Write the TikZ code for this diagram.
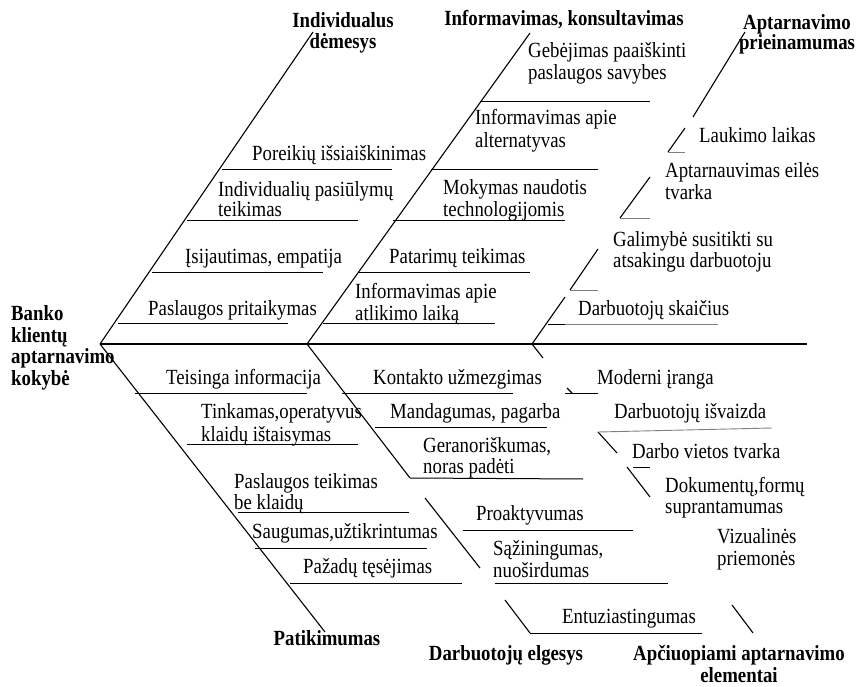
\documentclass[tikz,border=0pt]{standalone}
\usepackage{fontspec}
\setmainfont{Liberation Serif}
\begin{document}
\begin{tikzpicture}[x=1pt,y=-1pt,
  every node/.style={inner sep=0pt, yscale=1.15, font=\fontsize{18.8}{22}\selectfont},
  lbl/.style={anchor=base west},
  head/.style={anchor=base, font=\fontsize{18.8}{22}\selectfont\bfseries},
  headl/.style={anchor=base west, font=\fontsize{18.8}{22}\selectfont\bfseries},
  bone/.style={line width=1.1pt},
  rib/.style={line width=1pt},
  faint/.style={line width=0.9pt, black!50}]
\useasboundingbox (0,0) rectangle (857,687);

% spine and junctions
\coordinate (J1) at (100,344);
\coordinate (J2) at (307,344);
\coordinate (J3) at (532,344);
\coordinate (head) at (807,344);
\draw[bone] (J1) -- (head);

% upper bones
\coordinate (B1) at (313,32);
\coordinate (B2) at (530,33);
\draw[bone] (J1) -- (B1);
\draw[bone] (J2) -- (B2);

% broken upper bone: Aptarnavimo prieinamumas
\coordinate (c1a) at (565,297); \coordinate (c1b) at (570,290);
\coordinate (c2a) at (598,249); \coordinate (c2b) at (620,218);
\coordinate (c3a) at (650,177); \coordinate (c3b) at (668,152);
\coordinate (c4a) at (685,128); \coordinate (c4b) at (693,117);
\coordinate (B3) at (745,32);
\draw[bone] (J3) -- (c1a);
\draw[bone] (c1b) -- (c2a);
\draw[bone] (c2b) -- (c3a);
\draw[bone] (c3b) -- (c4a);
\draw[bone] (c4b) -- (B3);

% lower bones
\coordinate (B4) at (325,632);
\draw[bone] (J1) -- (B4);

\coordinate (d1) at (410,478);
\coordinate (d2a) at (425,498); \coordinate (d2b) at (480,568);
\coordinate (d3a) at (505,600); \coordinate (d3b) at (530,633);
\draw[bone] (J2) -- (d1);
\draw[bone] (d2a) -- (d2b);
\draw[bone] (d3a) -- (d3b);

\coordinate (e1) at (543,358);
\coordinate (e2a) at (567,388); \coordinate (e2b) at (572,393);
\coordinate (e3a) at (598,432); \coordinate (e3b) at (617,453);
\coordinate (e4a) at (627,467); \coordinate (e4b) at (650,497);
\coordinate (e5a) at (732,605); \coordinate (e5b) at (753,633);
\draw[bone] (J3) -- (e1);
\draw[bone] (e2a) -- (e2b);
\draw[bone] (e3a) -- (e3b);
\draw[bone] (e4a) -- (e4b);
\draw[bone] (e5a) -- (e5b);

% ribs: Individualus demesys
\draw[rib] (222,170) -- (392,170);
\draw[rib] (187,221) -- (358,221);
\draw[rib] (152,273) -- (323,273);
\draw[rib] (118,323) -- (288,323);

% ribs: Informavimas, konsultavimas
\draw[rib] (480,102) -- (650,102);
\draw[rib] (431,170) -- (598,170);
\draw[rib] (393,221) -- (565,221);
\draw[rib] (358,273) -- (530,273);
\draw[rib] (323,323) -- (495,323);

% ribs: Aptarnavimo prieinamumas
\draw[faint] (c3b) -- (685,152);
\draw[faint] (c2b) -- (650,218);
\draw[faint] (c1b) -- (598,290);
\draw[rib] (548,324) -- (565,324);
\draw[faint] (565,324) -- (718,324);

% ribs: Patikimumas
\draw[rib] (135,393) -- (307,393);
\draw[rib] (187,444) -- (358,444);
\draw[rib] (238,512) -- (409,512);
\draw[rib] (255,548) -- (427,548);
\draw[rib] (290,583) -- (462,583);

% ribs: Darbuotoju elgesys
\draw[rib] (342,393) -- (513,393);
\draw[rib] (375,427) -- (547,427);
\draw[rib] (d1) -- (583,479);
\draw[rib] (463,530) -- (633,530);
\draw[rib] (495,583) -- (668,583);
\draw[rib] (d3b) -- (702,633);

% ribs: Apciuopiami aptarnavimo elementai
\draw[rib] (565,393) -- (598,393);
\draw[faint] (e3a) -- (772,428);
\draw[rib] (633,467) -- (650,467);

% effect
\node[headl] (q1) at (11,320) {Banko};
\node[headl] (q2) at (11,342) {klientų};
\node[headl] (q3) at (11,363) {aptarnavimo};
\node[headl] (q4) at (11,385) {kokybė};

% category titles
\node[head] (h1a) at (343,28) {Individualus};
\node[head] (h1b) at (343,49) {dėmesys};
\node[head] (h2) at (564,26) {Informavimas, konsultavimas};
\node[head] (h3a) at (797,30) {Aptarnavimo};
\node[head] (h3b) at (797,50) {prieinamumas};
\node[head] (h4) at (327,645) {Patikimumas};
\node[head] (h5) at (506,660) {Darbuotojų elgesys};
\node[head] (h6a) at (739,660) {Apčiuopiami aptarnavimo};
\node[head] (h6b) at (739,682) {elementai};

% Individualus demesys
\node[lbl] (a1) at (252,161) {Poreikių išsiaiškinimas};
\node[lbl] (a2a) at (218,197) {Individualių pasiūlymų};
\node[lbl] (a2b) at (218,217) {teikimas};
\node[lbl] (a3) at (185,263) {Įsijautimas, empatija};
\node[lbl] (a4) at (148,315) {Paslaugos pritaikymas};

% Informavimas, konsultavimas
\node[lbl] (b1a) at (528,58) {Gebėjimas paaiškinti};
\node[lbl] (b1b) at (528,80) {paslaugos savybes};
\node[lbl] (b2a) at (475,125) {Informavimas apie};
\node[lbl] (b2b) at (475,148) {alternatyvas};
\node[lbl] (b3a) at (443,195) {Mokymas naudotis};
\node[lbl] (b3b) at (443,217) {technologijomis};
\node[lbl] (b4) at (389,263) {Patarimų teikimas};
\node[lbl] (b5a) at (355,298) {Informavimas apie};
\node[lbl] (b5b) at (355,320) {atlikimo laiką};

% Aptarnavimo prieinamumas
\node[lbl] (c1) at (699,143) {Laukimo laikas};
\node[lbl] (c2a) at (665,178) {Aptarnauvimas eilės};
\node[lbl] (c2b) at (665,200) {tvarka};
\node[lbl] (c3a) at (613,247) {Galimybė susitikti su};
\node[lbl] (c3b) at (613,268) {atsakingu darbuotoju};
\node[lbl] (c4) at (578,315) {Darbuotojų skaičius};

% Patikimumas
\node[lbl] (p1) at (166,384) {Teisinga informacija};
\node[lbl] (p2a) at (201,418) {Tinkamas,operatyvus};
\node[lbl] (p2b) at (201,441) {klaidų ištaisymas};
\node[lbl] (p3a) at (234,488) {Paslaugos teikimas};
\node[lbl] (p3b) at (234,509) {be klaidų};
\node[lbl] (p4) at (252,538) {Saugumas,užtikrintumas};
\node[lbl] (p5) at (303,573) {Pažadų tęsėjimas};

% Darbuotoju elgesys
\node[lbl] (g1) at (373,384) {Kontakto užmezgimas};
\node[lbl] (g2) at (390,418) {Mandagumas, pagarba};
\node[lbl] (g3a) at (423,452) {Geranoriškumas,};
\node[lbl] (g3b) at (423,473) {noras padėti};
\node[lbl] (g4) at (476,520) {Proaktyvumas};
\node[lbl] (g5a) at (493,555) {Sąžiningumas,};
\node[lbl] (g5b) at (493,577) {nuoširdumas};
\node[lbl] (g6) at (562,623) {Entuziastingumas};

% Apciuopiami aptarnavimo elementai
\node[lbl] (t1) at (597,384) {Moderni įranga};
\node[lbl] (t2) at (614,418) {Darbuotojų išvaizda};
\node[lbl] (t3) at (632,458) {Darbo vietos tvarka};
\node[lbl] (t4a) at (665,492) {Dokumentų,formų};
\node[lbl] (t4b) at (665,513) {suprantamumas};
\node[lbl] (t5a) at (717,543) {Vizualinės};
\node[lbl] (t5b) at (717,565) {priemonės};
\end{tikzpicture}
\end{document}
